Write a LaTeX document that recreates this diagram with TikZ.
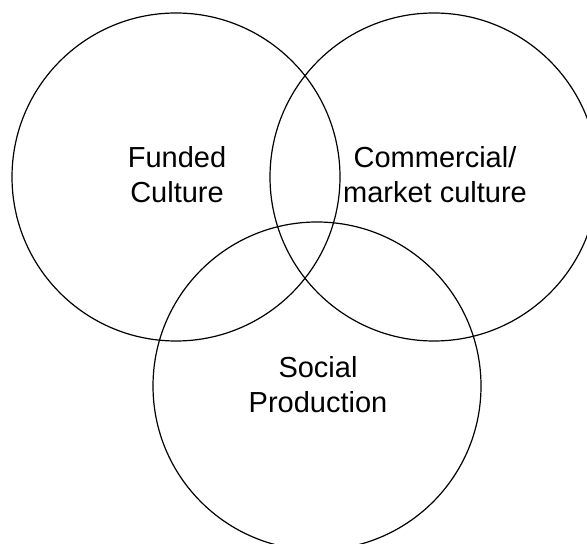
\documentclass[tikz,border=0pt]{standalone}
\usepackage{fontspec}
\setmainfont{Liberation Sans}

\begin{document}
\begin{tikzpicture}[x=0.5pt,y=-0.5pt,
  set/.style={draw,circle,line width=0.6pt,minimum size=164pt,inner sep=0pt},
  lbl/.style={align=center,font=\fontsize{14.5pt}{17.5pt}\selectfont}]
\useasboundingbox (0,0) rectangle (587,544);
\node[set] (funded) at (176,177) {};
\node[set] (market) at (434,177) {};
\node[set] (social) at (317,386) {};
\node[lbl] (fundedtext) at (177,175) {Funded\\Culture};
\node[lbl] (markettext) at (435,175) {Commercial/\\market culture};
\node[lbl] (socialtext) at (318,385) {Social\\Production};
\end{tikzpicture}
\end{document}
